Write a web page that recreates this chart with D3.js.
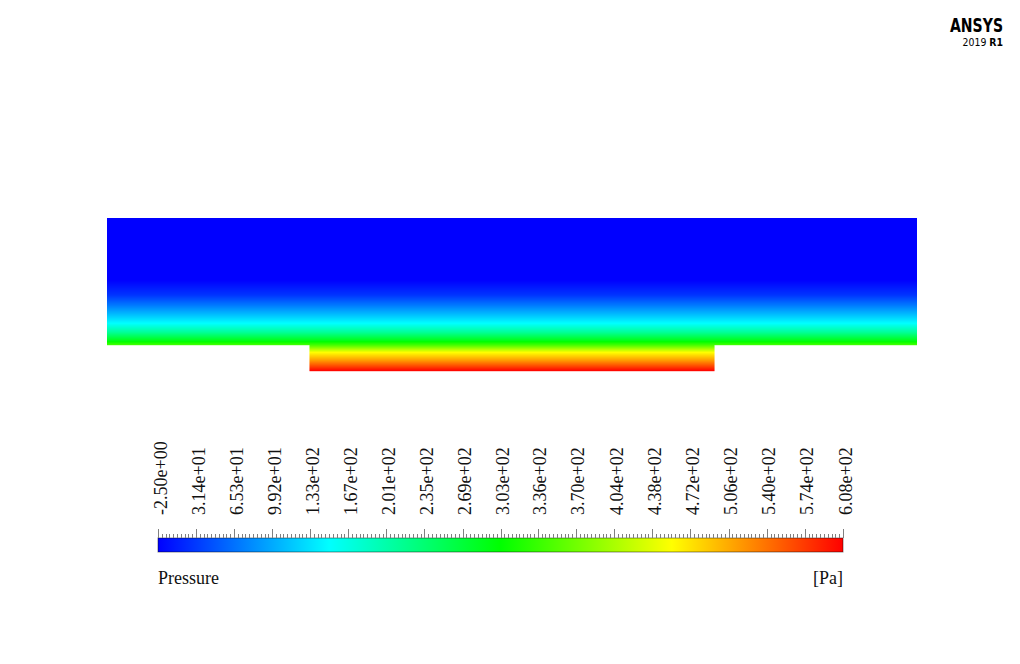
<!DOCTYPE html>
<meta charset="utf-8">
<html>
<head>
    <title>Pressure</title>
</head>
<style type="text/css">
    body{ margin:0; background:#fff; }
    text{ font-family: "Liberation Serif", "Times New Roman", serif; }
    .logo{ font-family: "DejaVu Sans", sans-serif; }
</style>
<script src="https://cdn.jsdelivr.net/npm/d3@7"></script>
<body>
<script type="text/javascript">
// geometry (arbitrary units): main channel and the feed slot under it
var channelX = [0, 100]
var channelY = [0, 15.7]
var slotX = [25, 75]
var slotY = [-3.2, 0]

// pressure read along the height (y) of the domain
var profileY = [15.7, 8.0, 6.2, 4.9, 3.7, 2.7, 1.6, 0.6, 0, -0.9, -1.9, -2.6, -3.2]
var profileP = [-2.5, -2.5, 28, 71, 114, 150, 211, 285, 345, 455, 516, 565, 608]

// colour bar
var pRange = [-2.5, 608]
var tickLabels = ["-2.50e+00","3.14e+01","6.53e+01","9.92e+01","1.33e+02","1.67e+02","2.01e+02",
    "2.35e+02","2.69e+02","3.03e+02","3.36e+02","3.70e+02","4.04e+02","4.38e+02","4.72e+02",
    "5.06e+02","5.40e+02","5.74e+02","6.08e+02"]
var rainbow = ["#0000ff","#00ffff","#00ff00","#ffff00","#ff0000"]

var svg = d3.select("body").append("svg")
    .attr("width", 1020)
    .attr("height", 664)

var x = d3.scaleLinear().domain(channelX).range([107, 917])
var y = d3.scaleLinear().domain([slotY[0], channelY[1]]).range([371, 218])

var colorStops = rainbow.map((c,i)=>pRange[0] + i*(pRange[1]-pRange[0])/(rainbow.length-1))
var color = d3.scaleLinear().domain(colorStops).range(rainbow).clamp(true)
var pAt = d3.scaleLinear().domain(profileY).range(profileP).clamp(true)

// field: one row per pixel
function drawBlock(xs, ys){
    var top = Math.round(y(ys[1])), bot = Math.round(y(ys[0]))
    var rows = d3.range(top, bot)
    svg.append("g").selectAll("rect")
        .data(rows).enter()
        .append("rect")
        .attr("x", x(xs[0]))
        .attr("width", x(xs[1]) - x(xs[0]))
        .attr("y", d=>d)
        .attr("height", 1.2)
        .attr("fill", d=>color(pAt(y.invert(d + 0.5))))
}
drawBlock(channelX, channelY)
drawBlock(slotX, slotY)

// colour bar
var bx = d3.scaleLinear().domain(pRange).range([158, 843])
var defs = svg.append("defs")
var grad = defs.append("linearGradient").attr("id", "rainbow")
grad.selectAll("stop").data(rainbow).enter().append("stop")
    .attr("offset", (d,i)=>(i/(rainbow.length-1)*100) + "%")
    .attr("stop-color", d=>d)

svg.append("rect")
    .attr("x", bx(pRange[0]))
    .attr("y", 538)
    .attr("width", bx(pRange[1]) - bx(pRange[0]))
    .attr("height", 14)
    .attr("fill", "url(#rainbow)")
    .attr("stroke", "rgba(0,0,0,0.45)")
    .attr("stroke-width", 1)

var majors = tickLabels.map(d=>+d)
var minors = []
for (let i=0;i<majors.length-1;i++){
    for (let k=1;k<10;k++) minors.push(majors[i] + k*(majors[i+1]-majors[i])/10)
}
svg.append("g").selectAll("line.minor")
    .data(minors).enter()
    .append("line")
    .attr("class", "minor")
    .attr("x1", d=>Math.round(bx(d))+0.5).attr("x2", d=>Math.round(bx(d))+0.5)
    .attr("y1", 534).attr("y2", 538)
    .attr("stroke", "#808080")
svg.append("g").selectAll("line.major")
    .data(majors).enter()
    .append("line")
    .attr("class", "major")
    .attr("x1", d=>Math.round(bx(d))+0.5).attr("x2", d=>Math.round(bx(d))+0.5)
    .attr("y1", 529).attr("y2", 538)
    .attr("stroke", "#808080")

svg.append("g").selectAll("text.tick")
    .data(tickLabels).enter()
    .append("text")
    .attr("class", "tick")
    .attr("transform", d=>"translate(" + (bx(+d) + 8.5) + ",515) rotate(-90)")
    .attr("font-size", "18px")
    .attr("fill", "#111")
    .text(d=>d)

svg.append("text")
    .attr("x", 158).attr("y", 584)
    .attr("font-size", "18px")
    .attr("fill", "#111")
    .text("Pressure")
svg.append("text")
    .attr("x", 843).attr("y", 584)
    .attr("text-anchor", "end")
    .attr("font-size", "18px")
    .attr("fill", "#111")
    .text("[Pa]")

// logo, squeezed horizontally
svg.append("text")
    .attr("class", "logo")
    .attr("transform", "translate(1003,32) scale(0.74,1)")
    .attr("text-anchor", "end")
    .attr("font-size", "19px")
    .attr("font-weight", "bold")
    .text("ANSYS")
var sub = svg.append("text")
    .attr("class", "logo")
    .attr("transform", "translate(1003,46) scale(0.85,1)")
    .attr("text-anchor", "end")
    .attr("font-size", "11px")
sub.append("tspan").text("2019 ")
sub.append("tspan").attr("font-weight", "bold").text("R1")
</script>
</body>
</html>
